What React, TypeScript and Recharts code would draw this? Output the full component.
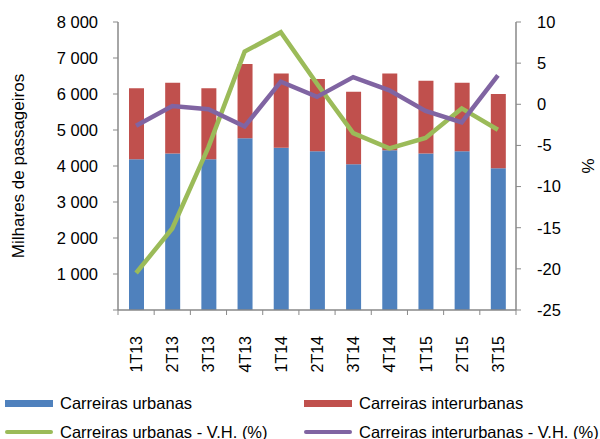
import React from "react";
import {
  ComposedChart,
  Bar,
  Line,
  XAxis,
  YAxis,
} from "recharts";

const quarters = ["1T13", "2T13", "3T13", "4T13", "1T14", "2T14", "3T14", "4T14", "1T15", "2T15", "3T15"];
const urbanas = [4190, 4350, 4190, 4770, 4510, 4410, 4050, 4440, 4350, 4410, 3935];
const interurbanas = [1970, 1960, 1970, 2060, 2060, 2010, 2010, 2130, 2020, 1900, 2065];
const urbanasVH = [-20.5, -15.1, -5.2, 6.4, 8.75, 2.5, -3.5, -5.35, -4.1, -0.5, -3.1];
const interurbanasVH = [-2.6, -0.2, -0.6, -2.7, 2.75, 0.9, 3.3, 1.7, -0.8, -2.2, 3.5];
const leftTicks = [0, 1000, 2000, 3000, 4000, 5000, 6000, 7000, 8000];
const rightTicks = [-25, -20, -15, -10, -5, 0, 5, 10];

const BLUE = "#4F81BD";
const RED = "#C0504D";
const GREEN = "#9BBB59";
const PURPLE = "#8064A2";
const AXIS = "#898989";
const FONT = "'Liberation Sans', Arial, sans-serif";

const data = quarters.map((q, i) => ({
  q,
  urbanas: urbanas[i],
  interurbanas: interurbanas[i],
  urbanasVH: urbanasVH[i],
  interurbanasVH: interurbanasVH[i],
}));

const legendItems = [
  { label: "Carreiras urbanas", color: BLUE, kind: "bar" },
  { label: "Carreiras interurbanas", color: RED, kind: "bar" },
  { label: "Carreiras urbanas - V.H. (%)", color: GREEN, kind: "line" },
  { label: "Carreiras interurbanas - V.H. (%)", color: PURPLE, kind: "line" },
];

const fmtThousands = (v: number) =>
  v === 0 ? "" : `${Math.floor(v / 1000)} ${String(v % 1000).padStart(3, "0")}`;

// rotated category label + tick marks at the band edges
function QuarterTick(props: any) {
  const { x, y, payload, index, width } = props;
  const step = (width || 398) / quarters.length;
  const axisY = y - 25;
  return (
    <g>
      <line x1={x - step / 2} x2={x - step / 2} y1={axisY} y2={axisY + 5} stroke={AXIS} />
      {index === quarters.length - 1 && (
        <line x1={x + step / 2} x2={x + step / 2} y1={axisY} y2={axisY + 5} stroke={AXIS} />
      )}
      <text
        x={0}
        y={0}
        transform={`translate(${x + 6},${y + 1}) rotate(-90)`}
        textAnchor="end"
        fontSize={16}
        fontFamily={FONT}
        fill="#000"
      >
        {payload.value}
      </text>
    </g>
  );
}

export default function App() {
  return (
    <div style={{ position: "absolute", left: 0, top: 0, width: 600, height: 439, background: "#fff" }}>
      <ComposedChart
        width={600}
        height={439}
        data={data}
        margin={{ top: 22, right: 0, left: 0, bottom: 69 }}
      >
        <XAxis
          dataKey="q"
          height={60}
          interval={0}
          tickSize={5}
          tickMargin={20}
          tickLine={false}
          axisLine={{ stroke: AXIS, strokeWidth: 1.5 }}
          tick={<QuarterTick />}
        />
        <YAxis
          yAxisId="left"
          width={118}
          domain={[0, 8000]}
          ticks={leftTicks}
          tickFormatter={fmtThousands}
          tickSize={5}
          tickMargin={15}
          axisLine={{ stroke: AXIS, strokeWidth: 1.5 }}
          tickLine={{ stroke: AXIS }}
          tick={{ fill: "#000", fontSize: 16.5, fontFamily: FONT }}
          label={{
            value: "Milhares de passageiros",
            angle: -90,
            position: "insideLeft",
            offset: 18,
            style: { fill: "#000", fontSize: 17, fontFamily: FONT, textAnchor: "middle" },
          }}
        />
        <YAxis
          yAxisId="right"
          orientation="right"
          width={84}
          domain={[-25, 10]}
          ticks={rightTicks}
          tickSize={5}
          tickMargin={16}
          axisLine={{ stroke: AXIS, strokeWidth: 1.5 }}
          tickLine={{ stroke: AXIS }}
          tick={{ fill: "#000", fontSize: 16.5, fontFamily: FONT, textAnchor: "start" }}
          label={{
            value: "%",
            angle: -90,
            position: "insideRight",
            offset: 12,
            style: { fill: "#000", fontSize: 17, fontFamily: FONT, textAnchor: "middle" },
          }}
        />
        <Bar yAxisId="left" dataKey="urbanas" stackId="a" fill={BLUE} barSize={15} isAnimationActive={false} />
        <Bar yAxisId="left" dataKey="interurbanas" stackId="a" fill={RED} barSize={15} isAnimationActive={false} />
        <Line
          yAxisId="right"
          type="linear"
          dataKey="urbanasVH"
          stroke={GREEN}
          strokeWidth={4.5}
          dot={false}
          isAnimationActive={false}
        />
        <Line
          yAxisId="right"
          type="linear"
          dataKey="interurbanasVH"
          stroke={PURPLE}
          strokeWidth={4.5}
          dot={false}
          isAnimationActive={false}
        />
      </ComposedChart>
      <div style={{ position: "absolute", left: 0, top: 390, width: 600, fontFamily: FONT, fontSize: 16.5 }}>
        {legendItems.map((it, i) => {
          const col = i % 2;
          const row = Math.floor(i / 2);
          return (
            <div
              key={it.label}
              style={{
                position: "absolute",
                left: col === 0 ? 5 : 304,
                top: row * 29,
                height: 26,
                display: "flex",
                alignItems: "center",
                whiteSpace: "nowrap",
              }}
            >
              <span
                style={{
                  display: "inline-block",
                  width: 48,
                  height: it.kind === "bar" ? 7 : 3.5,
                  background: it.color,
                  borderRadius: it.kind === "line" ? 2 : 0,
                  marginRight: 7,
                }}
              />
              <span style={{ color: "#000" }}>{it.label}</span>
            </div>
          );
        })}
      </div>
    </div>
  );
}
